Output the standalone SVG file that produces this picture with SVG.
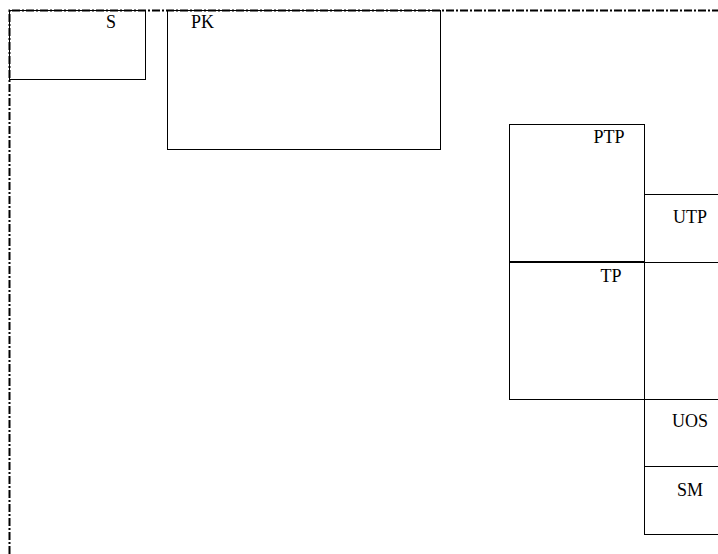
<svg xmlns="http://www.w3.org/2000/svg" width="718" height="554" viewBox="0 0 718 554">
<style>
.box{fill:none;stroke:#000;stroke-width:1}
.border{fill:none;stroke:#000;stroke-width:2;stroke-dasharray:8 2 2 2}
</style>
<rect width="718" height="554" fill="#fff"/>
<g id="connectors">
<path class="border" d="M9.5 554 L9.5 10.5 L718 10.5"/>
</g>
<g font-family="'Liberation Serif', 'Times New Roman', Times, serif" font-size="18" fill="#000">
<g id="S"><rect class="box" x="9.5" y="10.5" width="136" height="69"/><text x="111" y="28" text-anchor="middle">S</text></g>
<g id="PK"><rect class="box" x="167.5" y="10.5" width="273" height="139"/><text x="191" y="28">PK</text></g>
<g id="PTP"><rect class="box" x="509.5" y="124.5" width="135" height="137"/><text x="609" y="143" text-anchor="middle">PTP</text></g>
<g id="UTP"><rect class="box" x="644.5" y="194.5" width="80" height="68"/><text x="690" y="223" text-anchor="middle">UTP</text></g>
<g id="TP"><rect class="box" x="509.5" y="262.5" width="135" height="137"/><text x="611" y="282" text-anchor="middle">TP</text></g>
<g id="R"><rect class="box" x="644.5" y="262.5" width="80" height="137"/></g>
<g id="UOS"><rect class="box" x="644.5" y="399.5" width="80" height="67"/><text x="690" y="427" text-anchor="middle">UOS</text></g>
<g id="SM"><rect class="box" x="644.5" y="466.5" width="80" height="68"/><text x="690" y="496" text-anchor="middle">SM</text></g>
</g>
</svg>
